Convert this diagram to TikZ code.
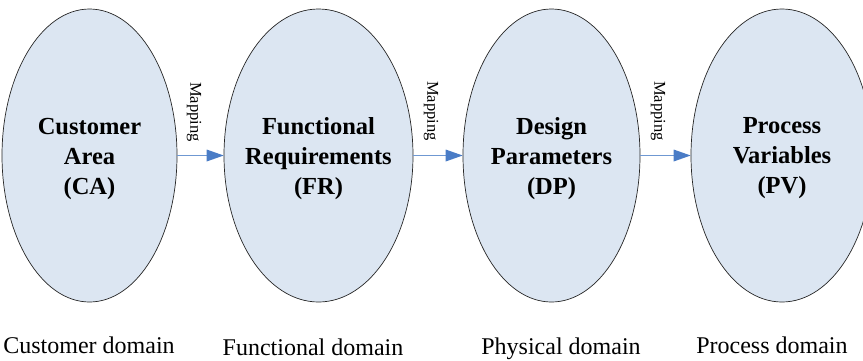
\documentclass[tikz,border=0pt]{standalone}
\usepackage{fontspec}
\setmainfont{Liberation Serif}
\usetikzlibrary{shapes.geometric,arrows.meta}

\definecolor{domainfill}{HTML}{DCE6F2}
\definecolor{maparrow}{HTML}{4A7CC6}
\definecolor{mapline}{HTML}{6F98D2}

\tikzset{
  domainbox/.style={ellipse, draw=black!85, line width=0.7pt, fill=domainfill,
    minimum height=293pt, inner sep=0pt},
  domtext/.style={align=center, inner sep=0pt,
    font=\fontsize{24.5}{30}\selectfont\bfseries},
  mapto/.style={draw=mapline, line width=1.3pt,
    -{Triangle[length=17pt,width=12pt,color=maparrow,fill=maparrow,line width=0pt]}},
  maplabel/.style={rotate=-90, font=\fontsize{16.5}{18}\selectfont, inner sep=0pt},
  domlabel/.style={font=\fontsize{24}{28}\selectfont, anchor=base, inner sep=0pt}
}

\begin{document}
\begin{tikzpicture}[x=1pt,y=-1pt]
  \useasboundingbox (0,0) rectangle (863,360);
  \clip (0,0) rectangle (863,360);

  % the four domains
  \node[domainbox, minimum width=175pt] (ca) at (89.5,155.5) {};
  \node[domainbox, minimum width=189pt] (fr) at (318.5,155.5) {};
  \node[domainbox, minimum width=177pt] (dp) at (551.5,155.5) {};
  \node[domainbox, minimum width=182pt] (pv) at (782,155.5) {};

  \node[domtext] (ca-t) at ([yshift=-3pt]ca.center) {Customer\\Area\\(CA)};
  \node[domtext] (fr-t) at ([yshift=-3pt]fr.center) {Functional\\Requirements\\(FR)};
  \node[domtext] (dp-t) at ([yshift=-3pt]dp.center) {Design\\Parameters\\(DP)};
  \node[domtext] (pv-t) at ([yshift=-3pt]pv.center) {Process\\Variables\\(PV)};

  % mappings between neighbouring domains
  \draw[mapto] (ca.east) -- (fr.west);
  \draw[mapto] (fr.east) -- (dp.west);
  \draw[mapto] (dp.east) -- (pv.west);

  \node[maplabel] (m1) at (194,112) {Mapping};
  \node[maplabel] (m2) at (431,111) {Mapping};
  \node[maplabel] (m3) at (658,111) {Mapping};

  % domain names
  \node[domlabel] (n1) at (89,353) {Customer domain};
  \node[domlabel] (n2) at (313,355) {Functional domain};
  \node[domlabel] (n3) at (561,354) {Physical domain};
  \node[domlabel] (n4) at (772,353) {Process domain};
\end{tikzpicture}
\end{document}
